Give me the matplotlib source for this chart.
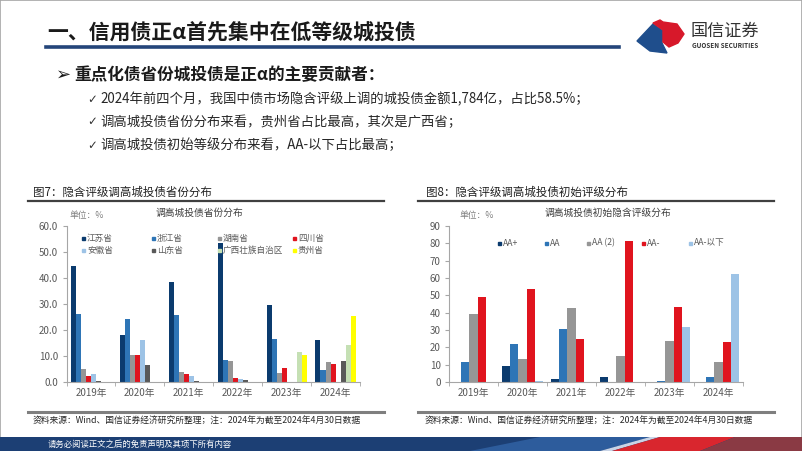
import matplotlib

matplotlib.use("Agg")
import matplotlib.pyplot as plt
from matplotlib.patches import Rectangle, Polygon
import numpy as np

plt.rcParams["font.family"] = ["Noto Sans CJK SC", "DejaVu Sans"]

W, H = 802, 451

# 图7 数据：隐含评级调高城投债省份分布（%）
years = ["2019年", "2020年", "2021年", "2022年", "2023年", "2024年"]
provinces = ["江苏省", "浙江省", "湖南省", "四川省", "安徽省", "山东省", "广西壮族自治区", "贵州省"]
jiangsu = [44.6, 18.0, 38.6, 53.5, 29.5, 16.0]
zhejiang = [26.0, 24.4, 25.8, 8.5, 16.5, 4.5]
hunan = [5.0, 10.3, 3.7, 8.1, 3.3, 7.7]
sichuan = [2.4, 10.3, 3.2, 1.7, 5.2, 6.8]
anhui = [3.1, 16.2, 2.3, 1.0, 0.0, 0.0]
shandong = [0.2, 6.7, 0.3, 0.6, 0.0, 8.2]
guangxi = [0.0, 0.0, 0.0, 0.0, 11.5, 14.3]
guizhou = [0.0, 0.0, 0.0, 0.0, 10.2, 25.5]
prov_series = [jiangsu, zhejiang, hunan, sichuan, anhui, shandong, guangxi, guizhou]
prov_colors = ["#0b3b6e", "#2e75b6", "#969696", "#e0141e", "#9dc3e6", "#595959", "#c5e0b4", "#ffff00"]

# 图8 数据：隐含评级调高城投债初始评级分布（%）
grades = ["AA+", "AA", "AA (2)", "AA-", "AA-以下"]
aa_plus = [0.0, 9.4, 1.9, 2.9, 0.0, 0.0]
aa = [11.7, 21.7, 30.6, 0.0, 0.8, 2.7]
aa_2 = [39.0, 13.3, 42.5, 15.0, 23.5, 11.7]
aa_minus = [48.8, 53.7, 24.6, 81.5, 43.3, 23.0]
below_aa_minus = [0.0, 0.8, 0.0, 0.0, 31.8, 62.3]
grade_series = [aa_plus, aa, aa_2, aa_minus, below_aa_minus]
grade_colors = ["#0b3b6e", "#2e75b6", "#969696", "#e0141e", "#9dc3e6"]

fig = plt.figure(figsize=(W / 100, H / 100), dpi=100)


def fx(x):
    return x / W


def fy(y):
    return 1 - y / H


def txt(x, y, s, size, **kw):
    kw.setdefault("va", "center")
    kw.setdefault("ha", "left")
    fig.text(fx(x), fy(y), s, fontsize=size, **kw)


def hline(x0, x1, y, color, lw):
    fig.add_artist(plt.Line2D([fx(x0), fx(x1)], [fy(y), fy(y)], color=color, lw=lw,
                              transform=fig.transFigure))


# 外框
fig.add_artist(Rectangle((0, 0), 1, 1, transform=fig.transFigure, fill=False,
                         edgecolor="#a6a6a6", lw=1.2))

# 标题
txt(47, 33, "一、信用债正α首先集中在低等级城投债", 15, fontweight="bold", color="#1a1a1a")
hline(46, 619, 46.5, "#24457a", 2.6)

# 国信证券 logo
blue_pts = [(637, 41), (653, 24), (663, 31), (662, 43), (667, 53), (650, 51)]
red_pts = [(653, 23), (660, 20), (663, 22), (677, 24), (684, 34), (678, 43),
           (669, 47), (663, 42), (663, 30)]
fig.add_artist(Polygon([(fx(a), fy(b)) for a, b in blue_pts], closed=True,
                       transform=fig.transFigure, color="#1f4e8c"))
fig.add_artist(Polygon([(fx(a), fy(b)) for a, b in red_pts], closed=True,
                       transform=fig.transFigure, color="#d7182a"))
txt(691, 31, "国信证券", 12.3, color="#333333")
txt(692, 45, "GUOSEN SECURITIES", 4.6, color="#333333", fontweight="bold")

# 要点
txt(56, 75, "➢", 13, color="#1a1a1a", family=["DejaVu Sans"], fontweight="bold")
txt(74, 75, "重点化债省份城投债是正α的主要贡献者：", 12, fontweight="bold", color="#1a1a1a")
bullets = [
    "2024年前四个月，我国中债市场隐含评级上调的城投债金额1,784亿，占比58.5%；",
    "调高城投债省份分布来看，贵州省占比最高，其次是广西省；",
    "调高城投债初始等级分布来看，AA-以下占比最高；",
]
for i, b in enumerate(bullets):
    y = 99 + i * 23
    txt(87, y, "✓", 8.5, color="#333333", family=["DejaVu Sans"])
    txt(100, y, b, 9.6, color="#262626")

# 图表标题及分隔线
txt(33, 192, "图7：隐含评级调高城投债省份分布", 8.3, color="#222222")
txt(426, 192, "图8：隐含评级调高城投债初始评级分布", 8.3, color="#222222")
hline(28, 384, 200.5, "#404040", 1.6)
hline(418, 774, 200.5, "#404040", 1.6)
hline(28, 384, 412, "#7f7f7f", 2.2)
hline(418, 774, 412, "#7f7f7f", 2.2)
src = "资料来源：Wind、国信证券经济研究所整理；注：2024年为截至2024年4月30日数据"
txt(33, 421, src, 6.3, color="#262626")
txt(425, 421, src, 6.3, color="#262626")


def bar_chart(left, right, series, colors, ymax, step, fmt):
    ax = fig.add_axes([fx(left), fy(382), fx(right) - fx(left), fy(226) - fy(382)])
    x = np.arange(len(years))
    n = len(series)
    group = 0.82
    w = group / n
    for i, (vals, c) in enumerate(zip(series, colors)):
        ax.bar(x - group / 2 + w * (i + 0.5), vals, width=w, color=c, zorder=2)
    ax.set_xlim(-0.5, len(years) - 0.5)
    ax.set_ylim(0, ymax)
    ax.set_yticks(np.arange(0, ymax + 0.01, step))
    ax.set_yticklabels([fmt % v for v in np.arange(0, ymax + 0.01, step)])
    ax.set_xticks(x)
    ax.set_xticklabels(years)
    ax.set_xticks(np.arange(-0.5, len(years)), minor=True)
    ax.tick_params(axis="x", which="major", length=0, labelsize=7, colors="#595959", pad=4)
    ax.tick_params(axis="x", which="minor", length=3, color="#a6a6a6")
    ax.tick_params(axis="y", length=3, labelsize=7, colors="#595959", color="#a6a6a6", pad=3)
    for s in ["top", "right"]:
        ax.spines[s].set_visible(False)
    for s in ["left", "bottom"]:
        ax.spines[s].set_color("#a6a6a6")
        ax.spines[s].set_linewidth(0.8)
    ax.patch.set_alpha(0)
    return ax


bar_chart(66.5, 360, prov_series, prov_colors, 60, 10, "%.1f")
bar_chart(449, 743, grade_series, grade_colors, 90, 10, "%d")

# 图内标题、单位
txt(69, 215, "单位：%", 6.3, color="#7f7f7f")
txt(199, 213, "调高城投债省份分布", 7, color="#404040", ha="center")
txt(460, 215, "单位：%", 6.3, color="#7f7f7f")
txt(608, 213, "调高城投债初始隐含评级分布", 7, color="#404040", ha="center")

# 图例
leg_cols = [83, 153, 219, 294]
for i, (name, c) in enumerate(zip(provinces, prov_colors)):
    lx = leg_cols[i % 4]
    ly = 238.5 if i < 4 else 250
    fig.add_artist(Rectangle((fx(lx - 1.5), fy(ly + 1.5)), 3 / W, 3 / H,
                             transform=fig.transFigure, color=c))
    txt(lx + 4, ly, name, 6.2, color="#595959")

leg_cols2 = [499, 546, 588, 643, 690]
for lx, name, c in zip(leg_cols2, grades, grade_colors):
    fig.add_artist(Rectangle((fx(lx - 1.5), fy(244.5)), 3 / W, 3 / H,
                             transform=fig.transFigure, color=c))
    txt(lx + 4, 243, name, 6.2, color="#595959")

# 页脚
fig.add_artist(Rectangle((0, 0), 1, fy(437), transform=fig.transFigure,
                         color="#1c3f74", lw=0))
stripes = [
    ([(470, 451), (540, 437), (650, 437), (600, 451)], "#2d5c9c"),
    ([(600, 451), (650, 437), (660, 437), (612, 451)], "#c9d4e6"),
    ([(612, 451), (660, 437), (735, 437), (700, 451)], "#d9262e"),
    ([(700, 451), (735, 437), (802, 437), (802, 451)], "#8a3a44"),
]
for pts, c in stripes:
    fig.add_artist(Polygon([(fx(a), fy(b)) for a, b in pts], closed=True,
                           transform=fig.transFigure, color=c, lw=0))
txt(48, 444, "请务必阅读正文之后的免责声明及其项下所有内容", 6, color="white")

fig.savefig("out.png", dpi=100)
